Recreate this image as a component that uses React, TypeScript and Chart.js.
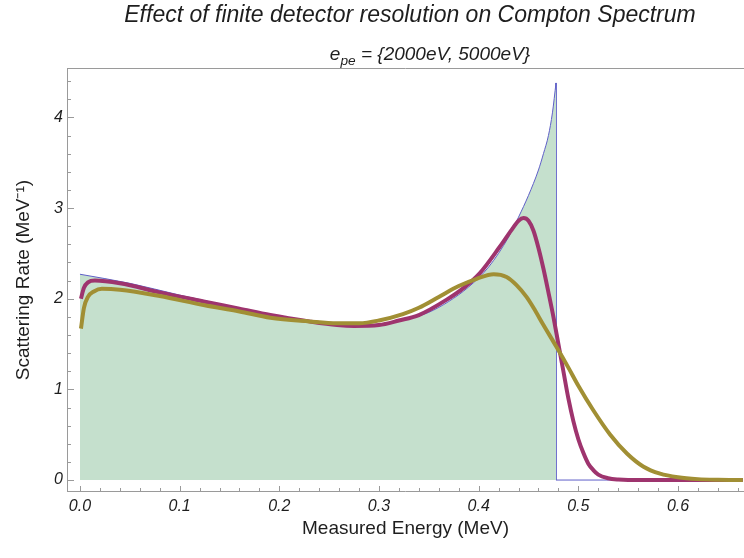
import React, { useEffect, useRef } from "react";
import { Chart, registerables } from "chart.js";

Chart.register(...registerables);

// ---- data ----
const idealEnergy = [0, 0.05, 0.1, 0.15, 0.2, 0.25, 0.28, 0.3, 0.33, 0.35, 0.37, 0.39, 0.41, 0.43, 0.44, 0.45, 0.46, 0.465, 0.47, 0.474, 0.4776];
const idealRate = [2.27, 2.17, 2.04, 1.92, 1.81, 1.73, 1.71, 1.72, 1.78, 1.85, 1.97, 2.13, 2.35, 2.68, 2.9, 3.14, 3.42, 3.6, 3.8, 4.05, 4.38];

const edgeEnergy = [0.4776, 0.4776, 0.665];
const edgeRate = [4.38, 0, 0];

const res2000Energy = [0.001, 0.004, 0.008, 0.015, 0.04, 0.08, 0.124, 0.16, 0.191, 0.23, 0.258, 0.275, 0.3, 0.32, 0.34, 0.368, 0.385, 0.401, 0.421, 0.435, 0.44, 0.445, 0.45, 0.455, 0.46, 0.465, 0.47, 0.475, 0.48, 0.485, 0.49, 0.495, 0.5, 0.505, 0.51, 0.515, 0.52, 0.53, 0.54, 0.55, 0.665];
const res2000Rate = [2.0, 2.12, 2.18, 2.2, 2.17, 2.07, 1.97, 1.89, 1.82, 1.75, 1.71, 1.7, 1.71, 1.76, 1.82, 1.99, 2.12, 2.28, 2.57, 2.79, 2.86, 2.89, 2.86, 2.75, 2.56, 2.33, 2.07, 1.8, 1.5, 1.2, 0.9, 0.65, 0.45, 0.3, 0.18, 0.11, 0.06, 0.02, 0.005, 0, 0];

const res5000Energy = [0.001, 0.004, 0.008, 0.014, 0.022, 0.04, 0.08, 0.124, 0.16, 0.191, 0.23, 0.258, 0.28, 0.3, 0.324, 0.34, 0.36, 0.38, 0.398, 0.415, 0.428, 0.438, 0.448, 0.455, 0.465, 0.478, 0.49, 0.5, 0.515, 0.532, 0.549, 0.565, 0.582, 0.6, 0.62, 0.64, 0.665];
const res5000Rate = [1.67, 1.9, 2.02, 2.08, 2.11, 2.1, 2.03, 1.93, 1.86, 1.79, 1.75, 1.73, 1.73, 1.76, 1.83, 1.9, 2.02, 2.14, 2.22, 2.27, 2.24, 2.15, 2.02, 1.9, 1.71, 1.47, 1.24, 1.04, 0.77, 0.5, 0.29, 0.15, 0.07, 0.03, 0.01, 0.003, 0];

const xTickValues = [0, 0.1, 0.2, 0.3, 0.4, 0.5, 0.6];
const yTickValues = [0, 1, 2, 3, 4];
const xMinorStep = 0.02;
const yMinorStep = 0.2;

const X_MIN = -0.013;
const X_MAX = 0.6662;
const Y_MIN = -0.132;
const Y_MAX = 4.545;

const FONT = "'Liberation Sans', Arial, Helvetica, sans-serif";
const TEXT_COLOR = "#1e1e1e";
const AXIS_COLOR = "#9a9a9a";
const FILL_COLOR = "rgb(197,224,205)";
const BLUE = "rgb(95,95,200)";
const MAGENTA = "rgb(158,52,110)";
const OLIVE = "rgb(161,143,52)";

const toPoints = (xs: number[], ys: number[]) => xs.map((x, i) => ({ x, y: ys[i] }));

const frameTicksPlugin = {
  id: "frameTicks",
  afterDraw(chart: any) {
    const { ctx, chartArea: a, scales } = chart;
    const xs = scales.x;
    const ys = scales.y;
    ctx.save();
    ctx.strokeStyle = AXIS_COLOR;
    ctx.lineWidth = 1;
    ctx.beginPath();
    ctx.moveTo(a.left + 0.5, a.top);
    ctx.lineTo(a.left + 0.5, a.bottom);
    ctx.moveTo(a.left, a.bottom - 0.5);
    ctx.lineTo(a.right, a.bottom - 0.5);
    ctx.moveTo(a.left, a.top + 0.5);
    ctx.lineTo(a.right, a.top + 0.5);
    for (let i = 0; i * xMinorStep <= X_MAX + 1e-9; i++) {
      const v = i * xMinorStep;
      const major = i % 5 === 0;
      const px = Math.round(xs.getPixelForValue(v)) + 0.5;
      ctx.moveTo(px, a.bottom);
      ctx.lineTo(px, a.bottom - (major ? 6 : 4));
    }
    for (let i = 0; i * yMinorStep <= Y_MAX + 1e-9; i++) {
      const v = i * yMinorStep;
      const major = i % 5 === 0;
      const py = Math.round(ys.getPixelForValue(v)) + 0.5;
      ctx.moveTo(a.left, py);
      ctx.lineTo(a.left + (major ? 7 : 4), py);
    }
    ctx.stroke();
    ctx.restore();
  },
};

export default function App() {
  const ref = useRef<HTMLCanvasElement>(null);

  useEffect(() => {
    if (!ref.current) return;
    const chart = new Chart(ref.current, {
      type: "line",
      data: {
        datasets: [
          {
            label: "5000 eV",
            data: toPoints(res5000Energy, res5000Rate),
            borderColor: OLIVE,
            borderWidth: 4,
            pointRadius: 0,
            fill: false,
            cubicInterpolationMode: "monotone",
            order: 0,
          },
          {
            label: "2000 eV",
            data: toPoints(res2000Energy, res2000Rate),
            borderColor: MAGENTA,
            borderWidth: 4,
            pointRadius: 0,
            fill: false,
            cubicInterpolationMode: "monotone",
            order: 1,
          },
          {
            label: "ideal",
            data: toPoints(idealEnergy, idealRate),
            borderColor: BLUE,
            backgroundColor: FILL_COLOR,
            borderWidth: 1,
            pointRadius: 0,
            fill: "origin",
            cubicInterpolationMode: "monotone",
            order: 2,
          },
          {
            label: "edge",
            data: toPoints(edgeEnergy, edgeRate),
            borderColor: BLUE,
            borderWidth: 1,
            pointRadius: 0,
            fill: false,
            tension: 0,
            order: 3,
          },
        ],
      },
      options: {
        responsive: false,
        animation: false,
        devicePixelRatio: 1,
        layout: { padding: { top: 68, right: 0, left: 0, bottom: 0 } },
        plugins: {
          legend: { display: false },
          tooltip: { enabled: false },
          title: { display: false },
        },
        scales: {
          x: {
            type: "linear",
            min: X_MIN,
            max: X_MAX,
            afterBuildTicks: (s: any) => {
              s.ticks = xTickValues.map((v) => ({ value: v }));
            },
            afterFit: (s: any) => {
              s.height = 66;
            },
            grid: { display: false, drawTicks: false },
            border: { display: false },
            ticks: {
              autoSkip: false,
              maxRotation: 0,
              padding: 5,
              color: TEXT_COLOR,
              font: { family: FONT, size: 16, style: "italic" },
              callback: (v: any) => Number(v).toFixed(1),
            },
            title: {
              display: true,
              text: "Measured Energy (MeV)",
              color: TEXT_COLOR,
              font: { family: FONT, size: 19 },
              padding: { top: 0, bottom: 18 },
            },
          },
          y: {
            type: "linear",
            min: Y_MIN,
            max: Y_MAX,
            afterBuildTicks: (s: any) => {
              s.ticks = yTickValues.map((v) => ({ value: v }));
            },
            afterFit: (s: any) => {
              s.width = 67;
            },
            grid: { display: false, drawTicks: false },
            border: { display: false },
            ticks: {
              autoSkip: false,
              padding: 4,
              color: TEXT_COLOR,
              font: { family: FONT, size: 16, style: "italic" },
              callback: (v: any) => String(v),
            },
            title: {
              display: true,
              text: "Scattering Rate (MeV\u207B\u00B9)",
              color: TEXT_COLOR,
              font: { family: FONT, size: 19 },
              padding: { top: 12, bottom: 0 },
            },
          },
        },
      },
      plugins: [frameTicksPlugin],
    } as any);
    return () => chart.destroy();
  }, []);

  return (
    <div
      style={{
        position: "absolute",
        left: 0,
        top: 0,
        width: 744,
        height: 558,
        overflow: "hidden",
        background: "#ffffff",
      }}
    >
      <canvas
        ref={ref}
        width={744}
        height={558}
        style={{ position: "absolute", left: 0, top: 0, width: 744, height: 558 }}
      />
      <div
        style={{
          position: "absolute",
          left: 410,
          top: 3,
          transform: "translateX(-50%)",
          whiteSpace: "nowrap",
          fontFamily: FONT,
          fontStyle: "italic",
          fontSize: 23,
          lineHeight: "23px",
          color: TEXT_COLOR,
        }}
      >
        Effect of finite detector resolution on Compton Spectrum
      </div>
      <div
        style={{
          position: "absolute",
          left: 430,
          top: 44,
          transform: "translateX(-50%)",
          whiteSpace: "nowrap",
          fontFamily: FONT,
          fontStyle: "italic",
          fontSize: 19,
          lineHeight: "19px",
          color: TEXT_COLOR,
        }}
      >
        e
        <span style={{ fontSize: "0.72em", position: "relative", top: "0.35em" }}>pe</span>
        {" = {2000eV, 5000eV}"}
      </div>
    </div>
  );
}
